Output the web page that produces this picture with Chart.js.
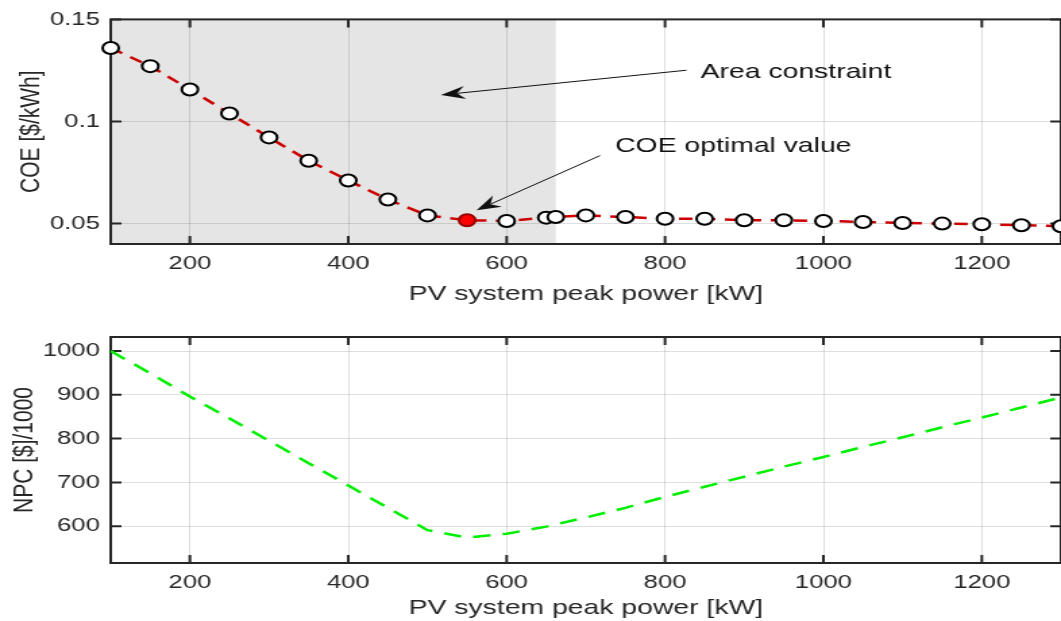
<!DOCTYPE html>
<html>
<head>
<meta charset="utf-8">
<script src="https://cdn.jsdelivr.net/npm/chart.js@4.4.0/dist/chart.umd.min.js"></script>
<style>
  html, body { margin: 0; padding: 0; background: #fff; overflow: hidden; width: 1061px; height: 621px; }
  canvas { position: absolute; left: 0; }
</style>
</head>
<body>
<!-- the original figure is stretched horizontally, so the canvases are drawn narrow and widened by css -->
<canvas id="coeChart" width="786" height="310" style="top:0;width:1061px;height:310px"></canvas>
<canvas id="npcChart" width="786" height="311" style="top:310px;width:1061px;height:311px"></canvas>
<script>
// PV system peak power [kW] and cost of energy [$/kWh]
const pvPower = [100, 150, 200, 250, 300, 350, 400, 450, 500, 550, 600, 650, 662, 700, 750, 800, 850, 900, 950, 1000, 1050, 1100, 1150, 1200, 1250, 1300];
const coeValues = [0.136, 0.1271, 0.1157, 0.1039, 0.0922, 0.0808, 0.0711, 0.0618, 0.054, 0.0516, 0.0513, 0.0529, 0.0532, 0.054, 0.0532, 0.0524, 0.0524, 0.0516, 0.0516, 0.0513, 0.0508, 0.0503, 0.05, 0.0497, 0.0492, 0.0487];
const optimalPower = 550;
const areaLimit = 662;

// net present cost [$]/1000
const npcPower = [100, 150, 200, 250, 300, 350, 400, 450, 500, 550, 600, 650, 700, 750, 800, 850, 900, 950, 1000, 1050, 1100, 1150, 1200, 1250, 1300];
const npcValues = [1000, 949, 896, 846, 795, 744, 693, 642, 591, 574, 583, 599, 620, 642, 667, 690, 713, 736, 758, 781, 803, 826, 848, 871, 894];

const xTicks = [200, 400, 600, 800, 1000, 1200];
const coeTicks = [0.05, 0.1, 0.15];
const npcTicks = [600, 700, 800, 900, 1000];

const font = '"Liberation Sans", Arial, Helvetica, sans-serif';
const ink = '#262626';

// shading, inward tick marks and box like the matlab axes
const axesBox = {
  id: 'axesBox',
  beforeDraw(chart, args, opts) {
    if (opts.shadeTo == null) return;
    const { ctx, chartArea: a, scales } = chart;
    ctx.save();
    ctx.fillStyle = '#e5e5e5';
    ctx.fillRect(a.left, a.top, scales.x.getPixelForValue(opts.shadeTo) - a.left, a.bottom - a.top);
    ctx.restore();
  },
  beforeDatasetsDraw(chart) {
    const { ctx, chartArea: a, scales } = chart;
    ctx.save();
    ctx.strokeStyle = ink;
    ctx.lineWidth = 2;
    ctx.beginPath();
    scales.x.ticks.forEach(t => {
      const px = scales.x.getPixelForValue(t.value);
      ctx.moveTo(px, a.bottom); ctx.lineTo(px, a.bottom - 8);
      ctx.moveTo(px, a.top); ctx.lineTo(px, a.top + 8);
    });
    scales.y.ticks.forEach(t => {
      const py = scales.y.getPixelForValue(t.value);
      ctx.moveTo(a.left, py); ctx.lineTo(a.left + 8, py);
      ctx.moveTo(a.right, py); ctx.lineTo(a.right - 8, py);
    });
    ctx.stroke();
    ctx.strokeRect(a.left, a.top, a.right - a.left, a.bottom - a.top);
    ctx.restore();
  }
};

function drawArrow(ctx, x1, y1, x2, y2) {
  const len = Math.hypot(x2 - x1, y2 - y1);
  const ux = (x2 - x1) / len, uy = (y2 - y1) / len;
  const nx = -uy, ny = ux;
  const L = 18, W = 6.5, N = 12;
  ctx.beginPath();
  ctx.moveTo(x1, y1);
  ctx.lineTo(x2 - ux * N, y2 - uy * N);
  ctx.stroke();
  ctx.beginPath();
  ctx.moveTo(x2, y2);
  ctx.lineTo(x2 - ux * L + nx * W, y2 - uy * L + ny * W);
  ctx.lineTo(x2 - ux * N, y2 - uy * N);
  ctx.lineTo(x2 - ux * L - nx * W, y2 - uy * L - ny * W);
  ctx.closePath();
  ctx.fill();
}

// text and arrow positions, in axis units
const notes = [
  { text: 'Area constraint', at: [845, 0.1211], tail: [827, 0.1251], tip: [517, 0.113] },
  { text: 'COE optimal value', at: [737, 0.0849], tail: [718, 0.0833], tip: [562, 0.0565] }
];

const annotations = {
  id: 'annotations',
  afterDatasetsDraw(chart) {
    const { ctx, scales: { x, y } } = chart;
    ctx.save();
    ctx.fillStyle = '#111';
    ctx.strokeStyle = '#111';
    ctx.lineWidth = 1;
    notes.forEach(n => {
      drawArrow(ctx, x.getPixelForValue(n.tail[0]), y.getPixelForValue(n.tail[1]),
                x.getPixelForValue(n.tip[0]), y.getPixelForValue(n.tip[1]));
      ctx.font = '21px ' + font;
      ctx.textAlign = 'left';
      ctx.textBaseline = 'alphabetic';
      ctx.fillText(n.text, x.getPixelForValue(n.at[0]), y.getPixelForValue(n.at[1]));
    });
    ctx.restore();
  }
};

function xAxis(height, titlePad) {
  return {
    type: 'linear',
    min: 100,
    max: 1300,
    afterBuildTicks: s => { s.ticks = xTicks.map(v => ({ value: v })); },
    afterFit: s => { s.height = height; },
    grid: { color: 'rgba(38,38,38,0.15)', drawTicks: false },
    border: { display: false },
    ticks: { color: ink, padding: 8, font: { family: font, size: 19 }, callback: v => String(v) },
    title: { display: true, text: 'PV system peak power [kW]', color: ink,
             font: { family: font, size: 21 }, padding: { top: 0, bottom: titlePad } }
  };
}

function yAxis(min, max, ticks, label, titlePad) {
  return {
    type: 'linear',
    min: min,
    max: max,
    afterBuildTicks: s => { s.ticks = ticks.map(v => ({ value: v })); },
    afterFit: s => { s.width = 82; },
    grid: { color: 'rgba(38,38,38,0.15)', drawTicks: false },
    border: { display: false },
    ticks: { color: ink, padding: 8, font: { family: font, size: 19 }, callback: v => String(v) },
    title: { display: true, text: label, color: ink,
             font: { family: font, size: 21 }, padding: { top: titlePad, bottom: 0 } }
  };
}

new Chart(document.getElementById('coeChart'), {
  type: 'line',
  data: {
    datasets: [{
      data: pvPower.map((p, i) => ({ x: p, y: coeValues[i] })),
      borderColor: '#cc0000',
      borderWidth: 2.5,
      borderDash: [10, 7],
      pointRadius: 6,
      pointBorderWidth: 2,
      pointBackgroundColor: pvPower.map(p => p === optimalPower ? '#ff0000' : '#ffffff'),
      pointBorderColor: pvPower.map(p => p === optimalPower ? '#990000' : '#000000'),
      clip: false
    }]
  },
  options: {
    responsive: false,
    devicePixelRatio: 1,
    animation: false,
    events: [],
    layout: { autoPadding: false, padding: { top: 17, left: 0, right: 0, bottom: 0 } },
    scales: { x: xAxis(66, 3), y: yAxis(0.04, 0.15, coeTicks, 'COE [$/kWh]', 11) },
    plugins: { legend: { display: false }, tooltip: { enabled: false }, axesBox: { shadeTo: areaLimit } }
  },
  plugins: [axesBox, annotations]
});

new Chart(document.getElementById('npcChart'), {
  type: 'line',
  data: {
    datasets: [{
      data: npcPower.map((p, i) => ({ x: p, y: npcValues[i] })),
      borderColor: '#00ee00',
      borderWidth: 2.5,
      borderDash: [13, 9],
      pointRadius: 0
    }]
  },
  options: {
    responsive: false,
    devicePixelRatio: 1,
    animation: false,
    events: [],
    layout: { autoPadding: false, padding: { top: 27, left: 0, right: 0, bottom: 0 } },
    scales: { x: xAxis(58, 0), y: yAxis(516, 1032, npcTicks, 'NPC [$]/1000', 6) },
    plugins: { legend: { display: false }, tooltip: { enabled: false } }
  },
  plugins: [axesBox]
});
</script>
</body>
</html>
